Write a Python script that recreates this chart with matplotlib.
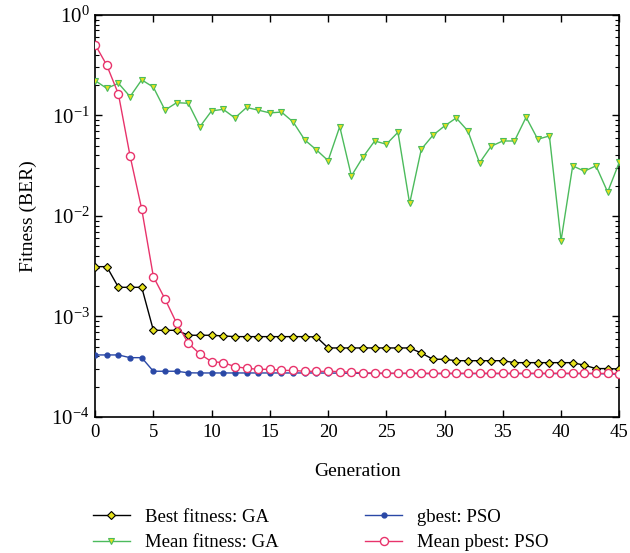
import matplotlib

matplotlib.use("Agg")

import matplotlib.pyplot as plt
from matplotlib.ticker import LogLocator, NullFormatter, MultipleLocator

plt.rcParams["font.family"] = ["Liberation Serif", "DejaVu Serif"]
plt.rcParams["mathtext.fontset"] = "stix"

generations = list(range(46))

best_ga = [
    0.00313, 0.00313, 0.00195, 0.00195, 0.00195, 0.000728, 0.000728, 0.000728,
    0.00065, 0.00065, 0.00065, 0.00064, 0.00063, 0.00063, 0.00063, 0.00063,
    0.00063, 0.00063, 0.00063, 0.000625, 0.000486, 0.000486, 0.000486, 0.000486,
    0.000486, 0.000486, 0.000486, 0.000486, 0.000433, 0.000375, 0.000375, 0.000363,
    0.000363, 0.000363, 0.000363, 0.000363, 0.000347, 0.000347, 0.000347, 0.000347,
    0.000347, 0.000347, 0.000327, 0.000303, 0.000303, 0.0003,
]

mean_ga = [
    0.222, 0.186, 0.209, 0.154, 0.226, 0.191, 0.113, 0.134, 0.132, 0.0774,
    0.111, 0.115, 0.0944, 0.120, 0.113, 0.106, 0.108, 0.0861, 0.057, 0.0454,
    0.0355, 0.0774, 0.025, 0.0386, 0.0557, 0.0517, 0.068, 0.0133, 0.046, 0.0635,
    0.0786, 0.0944, 0.0701, 0.0337, 0.0494, 0.0557, 0.0557, 0.096, 0.058, 0.0625,
    0.00568, 0.0315, 0.0279, 0.0315, 0.0173, 0.0342,
]

gbest_pso = [
    0.000414, 0.000414, 0.000414, 0.000389, 0.000389, 0.000285, 0.000285, 0.000285,
    0.000275, 0.000274, 0.000274, 0.000274, 0.000274, 0.000274, 0.000274, 0.000274,
    0.000274, 0.000274, 0.000274, 0.000274, 0.000273, 0.000273, 0.000272, 0.000272,
    0.000271, 0.000271, 0.000271, 0.000271, 0.00027, 0.00027, 0.00027, 0.00027,
    0.00027, 0.00027, 0.00027, 0.00027, 0.00027, 0.00027, 0.00027, 0.00027,
    0.00027, 0.00027, 0.00027, 0.00027, 0.000268, 0.000266,
]

mean_pbest_pso = [
    0.507, 0.316, 0.163, 0.0395, 0.0117, 0.00249, 0.00149, 0.000855,
    0.000541, 0.000423, 0.000355, 0.000347, 0.000317, 0.000305, 0.000298, 0.000298,
    0.000291, 0.00029, 0.000285, 0.000284, 0.000284, 0.000283, 0.000278, 0.000275,
    0.000273, 0.000272, 0.000272, 0.000272, 0.000272, 0.000272, 0.000272, 0.000272,
    0.000272, 0.000272, 0.000272, 0.000272, 0.000272, 0.000272, 0.000272, 0.000272,
    0.000272, 0.000272, 0.000272, 0.000271, 0.000271, 0.00027,
]

fig = plt.figure(figsize=(6.3, 5.53), dpi=100)
ax = fig.add_axes([0.151, 0.246, 0.832, 0.727])

ax.plot(generations, best_ga, color="black", lw=1.0, marker="D", ms=4.2,
        mfc="#e6e21c", mec="black", mew=0.8, label="Best fitness: GA", zorder=3)
ax.plot(generations, mean_ga, color="#4cbb5c", lw=1.0, marker="v", ms=5,
        mfc="#e6e21c", mec="#4cbb5c", mew=0.8, label="Mean fitness: GA", zorder=3)
ax.plot(generations, gbest_pso, color="#2a48a6", lw=1.0, marker="o", ms=3.5,
        mfc="#2a48a6", mec="#2a48a6", label="gbest: PSO", zorder=3)
ax.plot(generations, mean_pbest_pso, color="#e8336b", lw=1.0, marker="o", ms=5.8,
        mfc="white", mec="#e8336b", mew=1.0, label="Mean pbest: PSO", zorder=4)

ax.set_yscale("log")
ax.set_ylim(1e-4, 1)
ax.set_xlim(0, 45)
ax.xaxis.set_major_locator(MultipleLocator(5))
ax.yaxis.set_major_locator(LogLocator(base=10, numticks=10))
ax.yaxis.set_minor_locator(LogLocator(base=10, subs=range(2, 10), numticks=20))
ax.yaxis.set_minor_formatter(NullFormatter())

ax.tick_params(which="both", direction="in", top=True, right=True)
ax.tick_params(axis="x", labelsize=13.5, pad=5)
ax.tick_params(axis="y", labelsize=15, pad=4)
ax.tick_params(which="major", length=5, width=1.0)
ax.tick_params(which="minor", length=3, width=0.8)
for spine in ax.spines.values():
    spine.set_linewidth(1.2)

ax.set_xlabel("Generation", fontsize=14, labelpad=16)
ax.set_ylabel("Fitness (BER)", fontsize=14, labelpad=10)

handles, labels = ax.get_legend_handles_labels()
fig.legend(handles, labels, ncol=2, loc="upper left", bbox_to_anchor=(0.135, 0.094),
           frameon=False, fontsize=13.5, handlelength=2.0, handletextpad=0.8,
           columnspacing=4.6, labelspacing=0.45, borderaxespad=0.0)

fig.savefig("out.png", dpi=100)
